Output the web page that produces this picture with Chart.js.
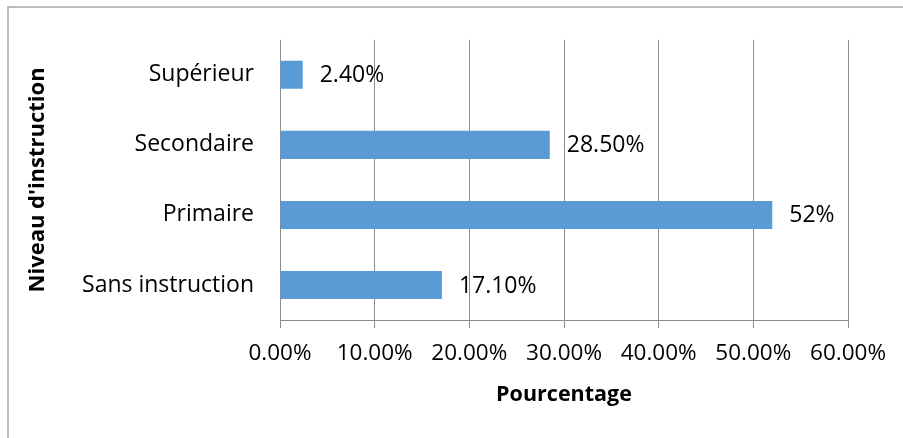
<!DOCTYPE html>
<html>
<head>
<meta charset="utf-8">
<script src="https://cdn.jsdelivr.net/npm/chart.js@4/dist/chart.umd.min.js"></script>
<style>
  html, body { margin: 0; padding: 0; background: #fff; }
  #wrap { width: 903px; height: 438px; position: relative; }
</style>
</head>
<body>
<div id="wrap"><canvas id="c" width="903" height="438"></canvas></div>
<script>
const categories = ['Supérieur', 'Secondaire', 'Primaire', 'Sans instruction'];
const values = [2.4, 28.5, 52, 17.1];
const valueLabels = ['2.40%', '28.50%', '52%', '17.10%'];
const xTickLabels = ['0.00%', '10.00%', '20.00%', '30.00%', '40.00%', '50.00%', '60.00%'];
const xTitle = 'Pourcentage';
const yTitle = "Niveau d'instruction";

const FONT = "'Open Sans', sans-serif";
const gridColor = '#8c8c8c';

const frame = {
  id: 'frame',
  beforeDraw(chart) {
    const ctx = chart.ctx;
    ctx.save();
    ctx.fillStyle = '#fff';
    ctx.fillRect(0, 0, chart.width, chart.height);
    ctx.strokeStyle = '#a6a6a6';
    ctx.lineWidth = 1.5;
    ctx.strokeRect(8, 7, chart.width + 20, chart.height + 20);
    ctx.restore();
  }
};

const dataLabels = {
  id: 'dataLabels',
  afterDatasetsDraw(chart) {
    const ctx = chart.ctx;
    const meta = chart.getDatasetMeta(0);
    ctx.save();
    ctx.font = '23px ' + FONT;
    ctx.fillStyle = '#000';
    ctx.textAlign = 'left';
    ctx.textBaseline = 'middle';
    meta.data.forEach((bar, i) => {
      ctx.fillText(valueLabels[i], bar.x + 17, bar.y + 1);
    });
    ctx.restore();
  }
};

new Chart(document.getElementById('c'), {
  type: 'bar',
  data: {
    labels: categories,
    datasets: [{
      data: values,
      backgroundColor: '#5b9bd5',
      borderWidth: 0,
      barPercentage: 0.4,
      categoryPercentage: 1
    }]
  },
  options: {
    indexAxis: 'y',
    responsive: false,
    animation: false,
    devicePixelRatio: 1,
    layout: { padding: { top: 36, right: 55, left: 0, bottom: 0 } },
    plugins: { legend: { display: false }, tooltip: { enabled: false } },
    scales: {
      x: {
        min: 0, max: 60,
        ticks: {
          stepSize: 10,
          color: '#000',
          font: { family: FONT, size: 22.5 },
          padding: 12,
          maxRotation: 0,
          callback: (v, i) => xTickLabels[i]
        },
        grid: { color: gridColor, lineWidth: 1, tickLength: 8, drawTicks: true },
        border: { display: true, color: gridColor, width: 1 },
        title: {
          display: true, text: xTitle, color: '#000',
          font: { family: FONT, size: 21.5, weight: 'bold' },
          padding: { top: 0, bottom: 30 }
        },
        afterFit(scale) { scale.height = 118; }
      },
      y: {
        ticks: {
          color: '#000',
          font: { family: FONT, size: 23 },
          padding: 26
        },
        grid: { display: false, drawTicks: false },
        border: { display: false },
        title: {
          display: true, text: yTitle, color: '#000',
          font: { family: FONT, size: 22, weight: 'bold' },
          padding: { top: 25, bottom: 0 }
        },
        afterFit(scale) { scale.width = 280; }
      }
    }
  },
  plugins: [frame, dataLabels]
});
</script>
</body>
</html>
